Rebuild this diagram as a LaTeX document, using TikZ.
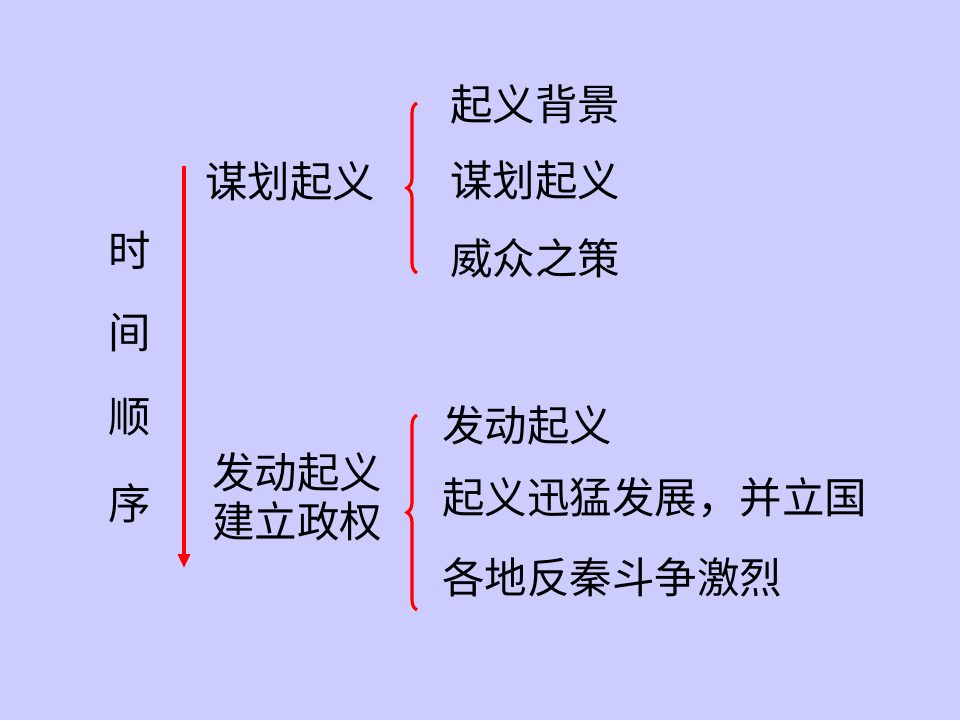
\documentclass[tikz,border=0pt]{standalone}
\usepackage{fontspec}
\setmainfont{Noto Sans CJK SC}
\usetikzlibrary{arrows.meta,decorations.pathreplacing}
\definecolor{bgblue}{RGB}{204,204,255}

\begin{document}
\begin{tikzpicture}[x=1pt, y=-1pt, >={Triangle[width=12pt,length=14pt]},
        txt/.style={anchor=west, inner sep=0pt, font=\fontsize{42.5}{49}\selectfont},
        redbrace/.style={red, line width=3.2pt, decorate, decoration={brace, amplitude=10pt}}]
        % Draw the background
        \fill[bgblue] (0,0) rectangle (960,720);

        % Label the time order (vertical)
        \node[txt, anchor=center] (shi) at (130,250) {时};
        \node[txt, anchor=center] (jian) at (130,333) {间};
        \node[txt, anchor=center] (shun) at (130,417) {顺};
        \node[txt, anchor=center] (xu) at (130,503) {序};

        % Draw the time arrow
        \coordinate (arrtop) at (184,166);
        \coordinate (arrbot) at (184,568);
        \draw[->, red, line width=3.5pt] (arrtop) -- (arrbot);

        % Stages
        \node[txt] (plan) at (205,181) {谋划起义};
        \node[txt, align=left] (launch) at (212,497) {发动起义\\建立政权};

        % Draw the braces
        \coordinate (b1top) at (417,103);
        \coordinate (b1bot) at (417,273);
        \draw[redbrace] (b1bot) -- (b1top);
        \coordinate (b2top) at (417,415);
        \coordinate (b2bot) at (417,610);
        \draw[redbrace] (b2bot) -- (b2top);

        % Details of the first stage
        \node[txt] (bg) at (450,104) {起义背景};
        \node[txt] (plan2) at (450,180) {谋划起义};
        \node[txt] (awe) at (450,258) {威众之策};

        % Details of the second stage
        \node[txt] (rise) at (442,425) {发动起义};
        \node[txt] (grow) at (442,498) {起义迅猛发展，并立国};
        \node[txt] (fight) at (442,577) {各地反秦斗争激烈};
    \end{tikzpicture}
\end{document}
